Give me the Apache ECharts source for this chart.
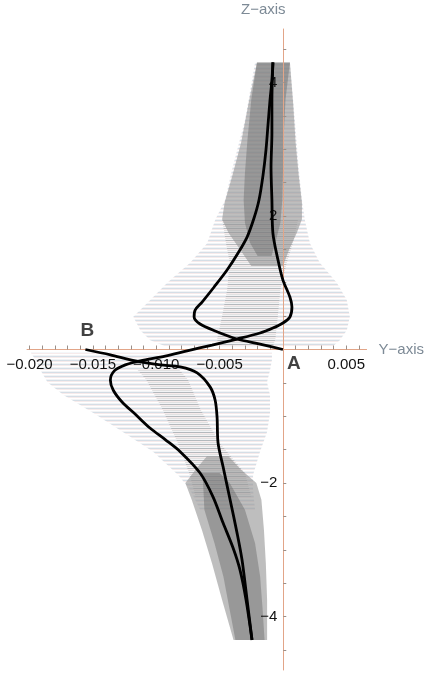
<!DOCTYPE html>
<html>
<head>
<meta charset="utf-8">
<script src="https://cdn.jsdelivr.net/npm/echarts@6/dist/echarts.min.js"></script>
<style>
  html, body { margin: 0; padding: 0; background: #ffffff; }
  #chart { width: 427px; height: 675px; }
</style>
</head>
<body>
<div id="chart"></div>
<script>
// Axis ticks and labels (Y in metres, Z in axis units)
const yTickValues = [-0.020, -0.019, -0.018, -0.017, -0.016, -0.015, -0.014, -0.013, -0.012, -0.011,
  -0.010, -0.009, -0.008, -0.007, -0.006, -0.005, -0.004, -0.003, -0.002, -0.001,
  0.001, 0.002, 0.003, 0.004, 0.005, 0.006];
const yLabelValues = [-0.020, -0.015, -0.010, -0.005, 0.005];
const zTickValues = [-4.5, -4, -3.5, -3, -2.5, -2, -1.5, -1, -0.5, 0.5, 1, 1.5, 2, 2.5, 3, 3.5, 4, 4.5];
const zLabelValues = [-4, -2, 2, 4];

// Trajectories as [Y, Z] pairs
const pathFromA = [
  [0, 0], [-0.00181, 0.082], [-0.00362, 0.157], [-0.00535, 0.277], [-0.00654, 0.382],
  [-0.00701, 0.487], [-0.00693, 0.591], [-0.00638, 0.711], [-0.00543, 0.936], [-0.00441, 1.19],
  [-0.00354, 1.445], [-0.00283, 1.684], [-0.00228, 1.969], [-0.00189, 2.238], [-0.00157, 2.612],
  [-0.00134, 2.986], [-0.00118, 3.361], [-0.00102, 3.735], [-0.00087, 4.03], [-0.00079, 4.30]
];
const pathFromB = [
  [-0.01559, 0.0], [-0.01362, -0.08], [-0.01165, -0.17], [-0.00969, -0.23], [-0.00811, -0.26],
  [-0.00677, -0.35], [-0.00575, -0.56], [-0.00535, -0.76], [-0.00520, -1.01], [-0.00512, -1.40],
  [-0.00472, -1.76], [-0.00417, -2.25], [-0.00362, -2.75], [-0.00323, -3.15], [-0.00283, -3.75],
  [-0.00244, -4.35]
];
const pathThrough = [
  [-0.00244, -4.35], [-0.00291, -3.75], [-0.00339, -3.30], [-0.00394, -2.97], [-0.00472, -2.60],
  [-0.00551, -2.21], [-0.00654, -1.85], [-0.00811, -1.53], [-0.00929, -1.35], [-0.01047, -1.18],
  [-0.01165, -0.97], [-0.01268, -0.79], [-0.01339, -0.61], [-0.01362, -0.46], [-0.01331, -0.32],
  [-0.01244, -0.23], [-0.01126, -0.17], [-0.00929, -0.10], [-0.00756, -0.02], [-0.00559, 0.067],
  [-0.00362, 0.157], [-0.00181, 0.247], [-0.00079, 0.322], [0, 0.397], [0.00055, 0.487],
  [0.00071, 0.636], [0.00055, 0.786], [0, 1.04], [-0.00039, 1.34], [-0.00079, 1.74],
  [-0.00087, 2.24], [-0.00094, 2.73], [-0.00087, 3.24], [-0.00087, 3.73], [-0.00079, 4.30]
];

// Spread envelopes as [Z, Y left, Y right] rows
const upperSpread = [
  [4.30, -0.00220, 0.00055], [3.44, -0.00299, 0.00094], [2.69, -0.00402, 0.00126],
  [2.24, -0.00457, 0.00150], [1.94, -0.00535, 0.00173], [1.59, -0.00598, 0.00213],
  [1.30, -0.00732, 0.00291], [1.00, -0.00913, 0.00425], [0.74, -0.01047, 0.00504],
  [0.49, -0.01181, 0.00528], [0.29, -0.01126, 0.00504], [0.14, -0.01047, 0.00449],
  [0.05, -0.00929, 0.00394]
];
const lowerSpread = [
  [-0.05, -0.01990, -0.00087], [-0.16, -0.01950, -0.00087], [-0.31, -0.01913, -0.00102],
  [-0.49, -0.01858, -0.00126], [-0.68, -0.01732, -0.00102], [-0.95, -0.01496, -0.00102],
  [-1.24, -0.01260, -0.00126], [-1.53, -0.01024, -0.00181], [-1.88, -0.00827, -0.00236],
  [-2.10, -0.00732, -0.00236], [-2.40, -0.00654, -0.00220]
];
const upperCore = [
  [1.95, -0.00480, 0.00120], [1.60, -0.00450, 0.00080], [1.30, -0.00420, 0.00030],
  [0.90, -0.00440, -0.00020], [0.50, -0.00480, -0.00040], [0.15, -0.00520, -0.00060],
  [0.05, -0.00500, -0.00080]
];
const lowerCore = [
  [-0.30, -0.01150, -0.00820], [-0.45, -0.01080, -0.00750], [-0.90, -0.00950, -0.00650],
  [-1.40, -0.00830, -0.00500], [-1.85, -0.00740, -0.00300], [-2.20, -0.00690, -0.00250]
];
const upperBand = [
  [4.30, -0.00205, 0.00055], [3.70, -0.00270, 0.00080], [3.10, -0.00330, 0.00100],
  [2.60, -0.00400, 0.00125], [2.20, -0.00460, 0.00150], [1.95, -0.00480, 0.00150],
  [1.75, -0.00430, 0.00110], [1.50, -0.00340, 0.00050], [1.25, -0.00250, 0.00000]
];
const upperBandDark = [
  [4.30, -0.00205, 0.00055], [3.74, -0.00250, 0.00020], [3.14, -0.00280, 0.00005],
  [2.64, -0.00300, 0.0], [2.24, -0.00310, -0.00005], [1.90, -0.00300, -0.00020],
  [1.60, -0.00260, -0.00060], [1.40, -0.00200, -0.00090]
];
const lowerBand = [
  [-1.60, -0.00600, -0.00430], [-1.80, -0.00690, -0.00330], [-2.00, -0.00770, -0.00210],
  [-2.25, -0.00720, -0.00170], [-2.70, -0.00640, -0.00150], [-3.20, -0.00560, -0.00135],
  [-3.75, -0.00480, -0.00125], [-4.35, -0.00390, -0.00125]
];
const lowerBandDark = [
  [-1.85, -0.00640, -0.00500], [-2.00, -0.00630, -0.00420], [-2.40, -0.00620, -0.00300],
  [-2.90, -0.00540, -0.00220], [-3.40, -0.00470, -0.00180], [-3.90, -0.00420, -0.00160],
  [-4.35, -0.00375, -0.00145]
];

// Point markers
const pointA = [0, 0];
const pointB = [-0.01559, 0];

// Horizontal hatching textures
function hatch(rows) {
  const c = document.createElement('canvas');
  c.width = 4; c.height = rows.length;
  const g = c.getContext('2d');
  rows.forEach((col, i) => { if (col) { g.fillStyle = col; g.fillRect(0, i, 4, 1); } });
  return { image: c, repeat: 'repeat' };
}
const lightHatch = hatch(['rgba(178,194,210,0.55)', 'rgba(236,206,206,0.4)', null, 'rgba(212,216,222,0.3)']);
const greyHatch = hatch(['rgba(140,140,140,0.45)', null, 'rgba(155,155,155,0.3)', null]);

const layers = [
  { rows: upperSpread, fill: lightHatch },
  { rows: lowerSpread, fill: lightHatch },
  { rows: upperCore, fill: greyHatch },
  { rows: lowerCore, fill: greyHatch },
  { rows: upperBand, fill: 'rgba(150,150,150,0.62)' },
  { rows: lowerBand, fill: 'rgba(150,150,150,0.62)' },
  { rows: upperBandDark, fill: 'rgba(100,100,100,0.42)' },
  { rows: lowerBandDark, fill: 'rgba(100,100,100,0.42)' }
];

function renderLayer(params, api) {
  const layer = layers[params.dataIndex];
  const left = layer.rows.map(r => api.coord([r[1], r[0]]));
  const right = layer.rows.slice().reverse().map(r => api.coord([r[2], r[0]]));
  return {
    type: 'polygon',
    shape: { points: left.concat(right) },
    style: { fill: layer.fill, stroke: null }
  };
}

const FONT = '"Liberation Sans", Arial, sans-serif';
function minus(s) { return s.replace('-', '\u2212'); }

// Plot frame; the axes are shifted onto the origin with offsets
const GRID = { left: 27, right: 60, top: 29, bottom: 5 };
const X_MIN = -0.0202, X_MAX = 0.0066, Z_MIN = -4.8, Z_MAX = 4.8;
const plotW = 427 - GRID.left - GRID.right;
const plotH = 675 - GRID.top - GRID.bottom;
const zeroX = plotW * (0 - X_MIN) / (X_MAX - X_MIN);
const zeroY = plotH * (Z_MAX - 0) / (Z_MAX - Z_MIN);

const chart = echarts.init(document.getElementById('chart'), null, { renderer: 'canvas' });
chart.setOption({
  animation: false,
  backgroundColor: '#ffffff',
  grid: Object.assign({ containLabel: false }, GRID),
  xAxis: {
    type: 'value', min: X_MIN, max: X_MAX, z: 3, position: 'bottom',
    offset: -(plotH - zeroY),
    name: 'Y\u2212axis', nameLocation: 'end', nameGap: 12,
    nameTextStyle: { color: '#7d8a96', fontFamily: FONT, fontSize: 15, verticalAlign: 'middle' },
    axisLine: { onZero: false, lineStyle: { color: '#e2a588', width: 1 } },
    axisTick: { show: true, inside: true, length: 4, customValues: yTickValues, lineStyle: { color: '#9a8f88' } },
    axisLabel: {
      customValues: yLabelValues, margin: 8, color: '#111', fontFamily: FONT, fontSize: 15,
      formatter: v => minus(v.toFixed(3))
    },
    splitLine: { show: false }
  },
  yAxis: {
    type: 'value', min: Z_MIN, max: Z_MAX, z: 3, position: 'left',
    offset: -zeroX,
    name: 'Z\u2212axis', nameLocation: 'end', nameGap: 12,
    nameTextStyle: { color: '#7d8a96', fontFamily: FONT, fontSize: 15, padding: [0, 40, 0, 0] },
    axisLine: { onZero: false, lineStyle: { color: '#e2a588', width: 1 } },
    axisTick: { show: true, inside: true, length: 3, customValues: zTickValues, lineStyle: { color: '#9a8f88' } },
    axisLabel: {
      customValues: zLabelValues, margin: 6, color: '#111', fontFamily: FONT, fontSize: 15,
      formatter: v => minus(String(v))
    },
    splitLine: { show: false }
  },
  series: [
    {
      type: 'custom', silent: true, z: 1,
      renderItem: renderLayer,
      data: layers.map(l => [l.rows[0][1], l.rows[0][0]])
    },
    {
      type: 'line', data: pathThrough, showSymbol: false, smooth: 0.3, z: 5, silent: true,
      lineStyle: { color: '#000', width: 2.8 }
    },
    {
      type: 'line', data: pathFromA, showSymbol: false, smooth: 0.3, z: 5, silent: true,
      lineStyle: { color: '#000', width: 2.8 }
    },
    {
      type: 'line', data: pathFromB, showSymbol: false, smooth: 0.3, z: 5, silent: true,
      lineStyle: { color: '#000', width: 2.8 }
    },
    {
      type: 'scatter', symbolSize: 0, z: 6, silent: true,
      data: [
        { name: 'A', value: pointA, label: { offset: [11, 14] } },
        { name: 'B', value: pointB, label: { offset: [2, -19] } }
      ],
      label: {
        show: true, position: 'inside', formatter: p => p.name,
        color: '#111', fontFamily: FONT, fontSize: 19, fontWeight: 'bold'
      }
    }
  ]
});
</script>
</body>
</html>
